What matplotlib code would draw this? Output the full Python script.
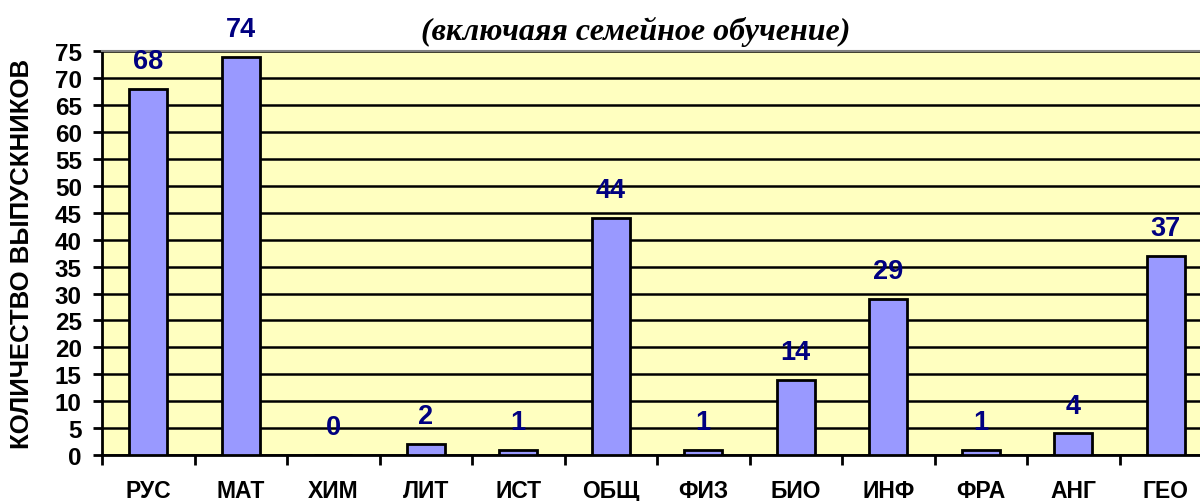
import numpy as np
import matplotlib
matplotlib.use("Agg")
from matplotlib import pyplot as plt
from matplotlib.ticker import FixedLocator

# данные
subjects = ['РУС', 'МАТ', 'ХИМ', 'ЛИТ', 'ИСТ', 'ОБЩ', 'ФИЗ', 'БИО', 'ИНФ', 'ФРА', 'АНГ', 'ГЕО']
counts = [68, 74, 0, 2, 1, 44, 1, 14, 29, 1, 4, 37]
y_ticks = list(range(0, 80, 5))

plt.rcParams['font.family'] = ['Liberation Sans', 'DejaVu Sans']

fig = plt.figure(figsize=(12, 5.02), dpi=100)
ax = fig.add_axes([0.085, 0.0916, 0.925, 0.804])
ax.set_facecolor('#FFFFC0')

x = np.arange(len(subjects))
ax.bar(x, counts, width=0.41, color='#9999FF', edgecolor='black', linewidth=2, zorder=3)

# подписи значений над столбцами
for xi, v in zip(x, counts):
    ax.annotate(str(v), (xi, v), xytext=(0, 20), textcoords='offset points',
                ha='center', va='center', fontsize=19.5, fontweight='bold', color='#000080')

ax.set_xlim(-0.5, len(subjects) - 0.5)
ax.set_ylim(0, 75)
ax.set_yticks(y_ticks)
ax.yaxis.grid(True, color='black', linewidth=1.8, zorder=1)
ax.set_axisbelow(True)

ax.set_xticks(x)
ax.set_xticklabels(subjects, fontsize=16.5, fontweight='bold')
ax.tick_params(axis='x', which='major', length=0, pad=17)
ax.xaxis.set_minor_locator(FixedLocator(np.arange(-0.5, len(subjects), 1.0)))
ax.tick_params(axis='x', which='minor', length=7, width=2, direction='out')
ax.tick_params(axis='y', length=6.5, width=2, direction='out', labelsize=17.5, pad=8)
for lbl in ax.get_yticklabels():
    lbl.set_fontweight('bold')

ax.spines['right'].set_visible(False)
ax.spines['left'].set_linewidth(2)
ax.spines['bottom'].set_linewidth(2)
ax.spines['top'].set_color('#808080')
ax.spines['top'].set_linewidth(1.5)

ax.set_ylabel('КОЛИЧЕСТВО ВЫПУСКНИКОВ', fontsize=18.5, fontweight='bold',
              ha='center', va='center')
ax.yaxis.set_label_coords(-0.072, 0.5)

fig.text(0.53, 0.936, '(включаяя семейное обучение)', ha='center', va='center',
         fontsize=23, fontweight='bold', fontstyle='italic',
         family=['Liberation Serif', 'DejaVu Serif'])

fig.savefig('out.png', dpi=100)
